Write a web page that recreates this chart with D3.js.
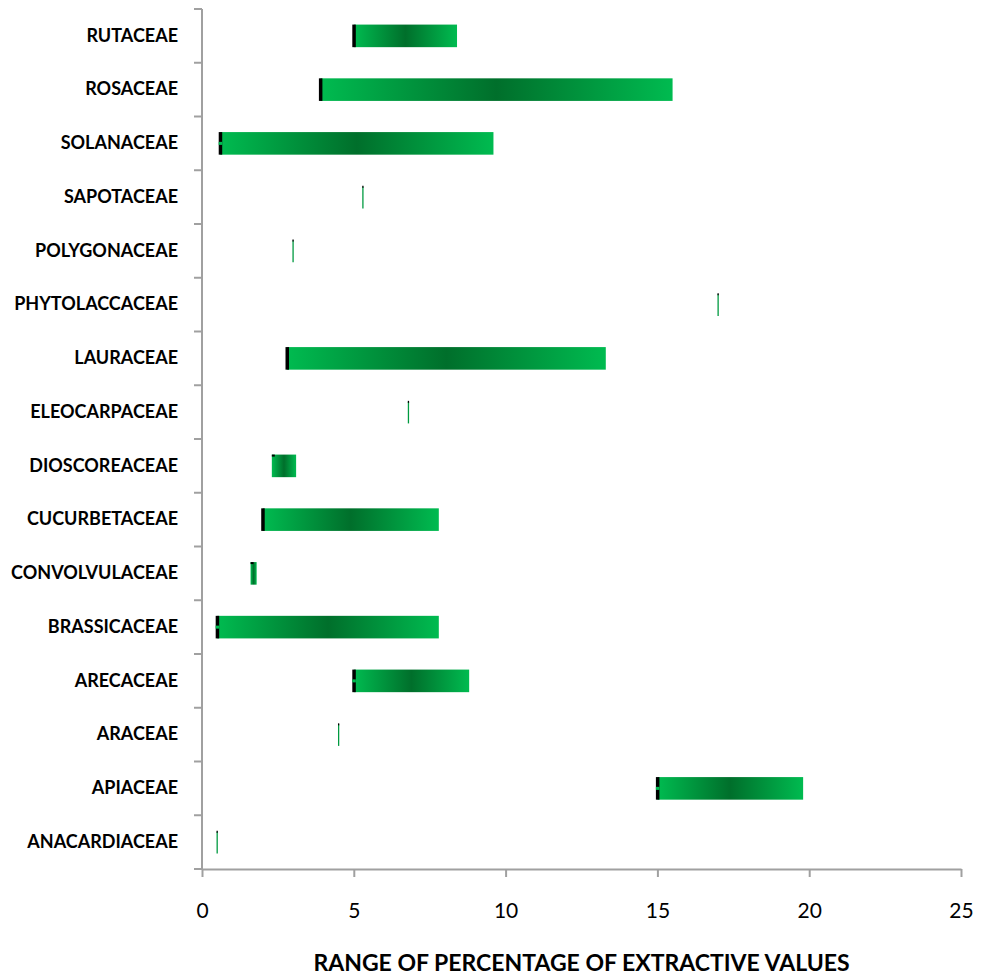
<!DOCTYPE html>
<html>
<head>
<meta charset="utf-8">
<script src="https://cdn.jsdelivr.net/npm/d3@7"></script>
<style>
  html, body { margin: 0; padding: 0; background: #ffffff; }
  svg { display: block; }
</style>
</head>
<body>
<svg id="chart" width="983" height="979"></svg>
<script>
// Plant families, listed top to bottom
const families = [
  "RUTACEAE", "ROSACEAE", "SOLANACEAE", "SAPOTACEAE", "POLYGONACEAE",
  "PHYTOLACCACEAE", "LAURACEAE", "ELEOCARPACEAE", "DIOSCOREACEAE",
  "CUCURBETACEAE", "CONVOLVULACEAE", "BRASSICACEAE", "ARECACEAE",
  "ARACEAE", "APIACEAE", "ANACARDIACEAE"
];
// Lowest and highest extractive value (%) reported for each family
const minValues = [5.0, 3.9, 0.6, 5.3, 3.0, 17.0, 2.8, 6.8, 2.3, 2.0, 1.6, 0.5, 5.0, 4.5, 15.0, 0.5];
const maxValues = [8.4, 15.5, 9.6, 5.3, 3.0, 17.0, 13.3, 6.8, 3.1, 7.8, 1.8, 7.8, 8.8, 4.5, 19.8, 0.5];
// Families whose start marker shows a split
const splitMarker = [false, false, true, false, false, false, false, false, false, false, false, true, true, false, true, false];
const xTicks = [0, 5, 10, 15, 20, 25];
const xTitle = "RANGE OF PERCENTAGE OF EXTRACTIVE VALUES";

const rows = families.map((f, i) => ({
  family: f, min: minValues[i], max: maxValues[i], split: splitMarker[i]
}));

const svg = d3.select("#chart");
const plot = { left: 202, right: 961, top: 9, bottom: 869 };
const axisColor = "#a0a0a0";

const x = d3.scaleLinear().domain([0, 25]).range([plot.left, plot.right]);
const y = d3.scaleBand().domain(families)
  .range([plot.top, plot.bottom])
  .paddingInner(0.58).paddingOuter(0.29);

// Horizontal fill: light green at the ends, deep green in the middle
const defs = svg.append("defs");
const grad = defs.append("linearGradient").attr("id", "barFill")
  .attr("x1", "0%").attr("x2", "100%").attr("y1", "0%").attr("y2", "0%");
grad.append("stop").attr("offset", "0%").attr("stop-color", "#00bb50");
grad.append("stop").attr("offset", "50%").attr("stop-color", "#006f2b");
grad.append("stop").attr("offset", "100%").attr("stop-color", "#00bb50");

// Range bars
const bars = svg.append("g").attr("class", "bars");
const ranged = rows.filter(d => d.max > d.min);
const single = rows.filter(d => d.max <= d.min);

bars.selectAll("rect.range").data(ranged).join("rect")
  .attr("class", "range")
  .attr("x", d => x(d.min))
  .attr("y", d => y(d.family))
  .attr("width", d => x(d.max) - x(d.min))
  .attr("height", y.bandwidth())
  .attr("fill", "url(#barFill)");

// Dark marker at the low end of each range
const wide = ranged.filter(d => x(d.max) - x(d.min) > 40);
bars.selectAll("rect.marker").data(wide).join("rect")
  .attr("class", "marker")
  .attr("x", d => x(d.min) - 1.5)
  .attr("y", d => y(d.family))
  .attr("width", 3.5)
  .attr("height", y.bandwidth())
  .attr("fill", "#000");
bars.selectAll("rect.split").data(wide.filter(d => d.split)).join("rect")
  .attr("class", "split")
  .attr("x", d => x(d.min) - 1.5)
  .attr("y", d => y(d.family) + y.bandwidth() / 2 - 1.5)
  .attr("width", 3.5)
  .attr("height", 3)
  .attr("fill", "#00bb50");
// Narrow ranges only show a dark cap on top
bars.selectAll("rect.cap").data(ranged.filter(d => x(d.max) - x(d.min) <= 40)).join("rect")
  .attr("class", "cap")
  .attr("x", d => x(d.min))
  .attr("y", d => y(d.family))
  .attr("width", d => Math.min(3, x(d.max) - x(d.min)))
  .attr("height", 2)
  .attr("fill", "#000");

// Families with a single reported value: a hairline
bars.selectAll("line.single").data(single).join("line")
  .attr("class", "single")
  .attr("x1", d => x(d.min)).attr("x2", d => x(d.min))
  .attr("y1", d => y(d.family) + 1).attr("y2", d => y(d.family) + y.bandwidth())
  .attr("stroke", "#009a40").attr("stroke-width", 1.3);
bars.selectAll("line.singleCap").data(single).join("line")
  .attr("class", "singleCap")
  .attr("x1", d => x(d.min)).attr("x2", d => x(d.min))
  .attr("y1", d => y(d.family)).attr("y2", d => y(d.family) + 2)
  .attr("stroke", "#000").attr("stroke-width", 1.3);

// Y axis: category labels
const yAxis = svg.append("g")
  .attr("transform", `translate(${plot.left},0)`)
  .call(d3.axisLeft(y).tickSize(0).tickPadding(24));
yAxis.select(".domain").remove();
yAxis.selectAll("text")
  .attr("font-family", "Lato, 'Open Sans', sans-serif")
  .attr("font-weight", "bold")
  .attr("font-size", 18)
  .attr("fill", "#000");

// Y axis line and tick marks at the category boundaries
const boundaries = d3.range(families.length + 1).map(i => plot.top + i * y.step());
svg.append("g").selectAll("line").data(boundaries).join("line")
  .attr("x1", plot.left - 8).attr("x2", plot.left)
  .attr("y1", d => d).attr("y2", d => d)
  .attr("stroke", axisColor).attr("stroke-width", 2);
svg.append("line")
  .attr("x1", plot.left).attr("x2", plot.left)
  .attr("y1", plot.top).attr("y2", plot.bottom)
  .attr("stroke", axisColor).attr("stroke-width", 2);

// X axis
const xAxis = svg.append("g")
  .attr("transform", `translate(0,${plot.bottom})`)
  .call(d3.axisBottom(x).tickValues(xTicks).tickFormat(d3.format("d"))
    .tickSize(8).tickSizeOuter(0).tickPadding(26));
xAxis.select(".domain").attr("stroke", axisColor).attr("stroke-width", 2);
xAxis.selectAll(".tick line").attr("stroke", axisColor).attr("stroke-width", 2);
xAxis.selectAll("text")
  .attr("font-family", "Lato, 'Open Sans', sans-serif")
  .attr("font-size", 21)
  .attr("fill", "#000");

// X axis title
svg.append("text")
  .attr("x", (plot.left + plot.right) / 2)
  .attr("y", 971)
  .attr("text-anchor", "middle")
  .attr("font-family", "Lato, 'Open Sans', sans-serif")
  .attr("font-weight", "bold")
  .attr("font-size", 23)
  .attr("fill", "#000")
  .text(xTitle);
</script>
</body>
</html>
